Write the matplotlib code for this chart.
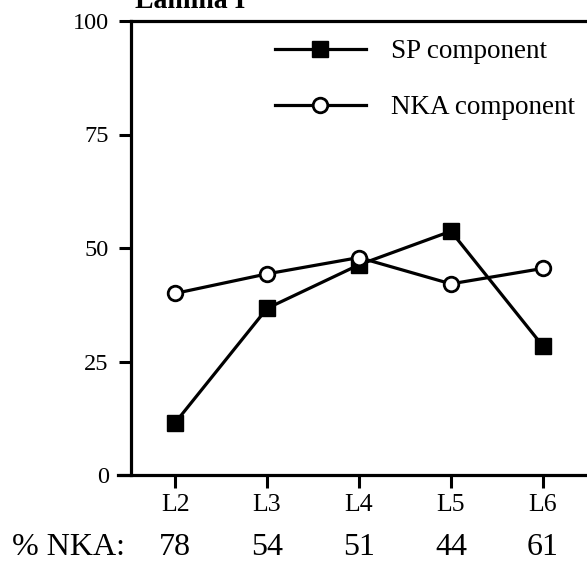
import matplotlib
matplotlib.use("Agg")
import matplotlib.pyplot as plt
import matplotlib.transforms as mtransforms

plt.rcParams['font.family'] = ['Liberation Serif', 'DejaVu Serif']

levels = ["L2", "L3", "L4", "L5", "L6"]
sp_component = [11.5, 36.7, 46.3, 53.7, 28.4]
nka_component = [40.0, 44.3, 47.9, 42.1, 45.5]
pct_nka = [78, 54, 51, 44, 61]
yticks = [0, 25, 50, 75, 100]

W, H = 587, 567
fig = plt.figure(figsize=(W / 100, H / 100), dpi=100)
ax = fig.add_axes([131 / W, 1 - 475 / H, 1 - 131 / W, (475 - 21) / H])

x = list(range(len(levels)))
ax.plot(x, sp_component, color='black', lw=2.3, marker='s', ms=12,
        mfc='black', mec='black', label='SP component', zorder=3)
ax.plot(x, nka_component, color='black', lw=2.3, marker='o', ms=10.5,
        mfc='white', mec='black', mew=2, label='NKA component', zorder=3)

ax.set_xlim(-0.48, 4.48)
ax.set_ylim(0, 100)
ax.set_xticks(x)
ax.set_xticklabels(levels)
ax.set_yticks(yticks)
ax.set_yticklabels([str(v) for v in yticks])
ax.tick_params(axis='both', direction='out', width=2.2, colors='black')
ax.tick_params(axis='y', length=9, pad=7, labelsize=17.5)
ax.tick_params(axis='x', length=9, pad=5, labelsize=18.5)
for s in ['left', 'bottom', 'top']:
    ax.spines[s].set_linewidth(2.3)
ax.spines['right'].set_visible(False)
ax.spines['bottom'].set_bounds(-0.48 - 13 / 92, 4.48)

leg = ax.legend(loc='upper left', bbox_to_anchor=(275 / W, 1 - 39 / H),
                bbox_transform=fig.transFigure, frameon=False, fontsize=19.5,
                handlelength=3.35, handletextpad=0.94, labelspacing=1.15,
                borderaxespad=0, borderpad=0, markerscale=1.0)

trans = mtransforms.blended_transform_factory(ax.transData, fig.transFigure)
for xi, v in zip(x, pct_nka):
    ax.text(xi, 1 - 555 / H, str(v), transform=trans, ha='center', va='baseline',
            fontsize=23)
fig.text(12 / W, 1 - 555 / H, "% NKA:", ha='left', va='baseline', fontsize=23)

fig.text(135 / W, 1 - 8 / H, "Lamina I", ha='left', va='baseline',
         fontsize=20, fontweight='bold')

fig.savefig("out.png", dpi=100)
